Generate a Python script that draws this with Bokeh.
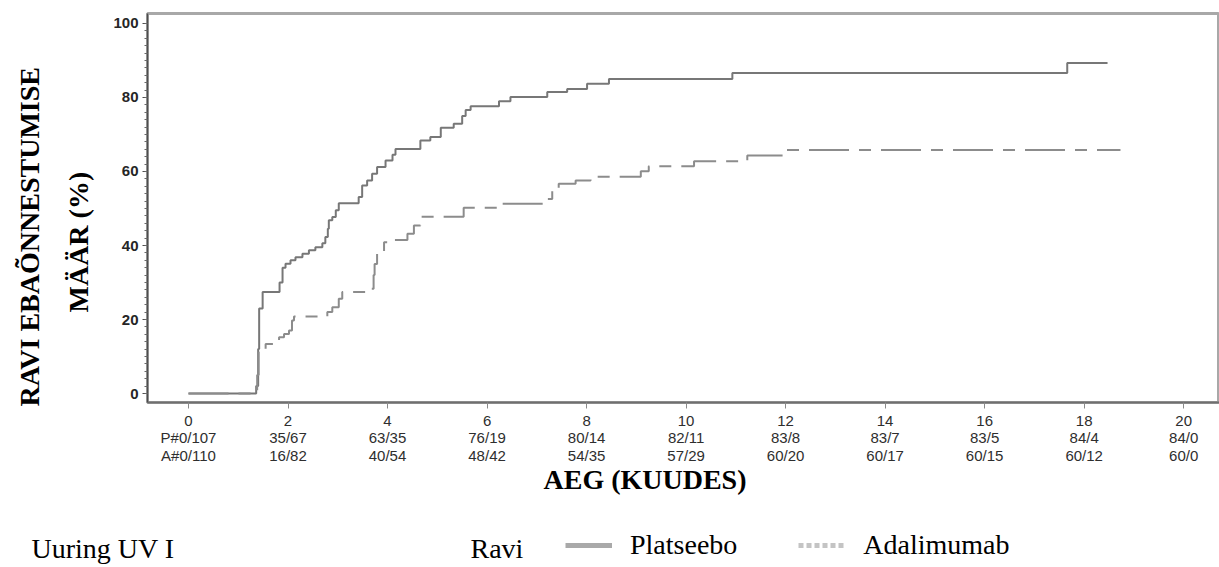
from bokeh.plotting import figure
from bokeh.layouts import column
from bokeh.models import Range1d, FixedTicker, Label, Legend, LegendItem, Title
from bokeh.embed import file_html
from bokeh.resources import INLINE

# --- data -----------------------------------------------------------------
month_ticks = [0, 2, 4, 6, 8, 10, 12, 14, 16, 18, 20]
placebo_at_risk = ["P#0/107", "35/67", "63/35", "76/19", "80/14", "82/11",
                   "83/8", "83/7", "83/5", "84/4", "84/0"]
adalimumab_at_risk = ["A#0/110", "16/82", "40/54", "48/42", "54/35", "57/29",
                      "60/20", "60/17", "60/15", "60/12", "60/0"]

# Kaplan-Meier treatment-failure curve, placebo arm (month, % failed)
placebo_month = [0.0, 1.36, 1.40, 1.42, 1.49, 1.83, 1.89, 1.95, 2.05, 2.15,
                 2.29, 2.42, 2.55, 2.69, 2.75, 2.80, 2.82, 2.89, 2.96, 3.02,
                 3.42, 3.49, 3.59, 3.69, 3.79, 3.96, 4.10, 4.16, 4.66, 4.86,
                 5.07, 5.33, 5.50, 5.57, 5.67, 6.24, 6.47, 7.21, 7.61, 8.01,
                 8.45, 10.93, 17.66]
placebo_pct = [0.0, 2.0, 12.0, 23.0, 27.4, 30.0, 34.0, 35.1, 36.0, 36.8,
               37.8, 38.7, 39.5, 40.6, 42.3, 44.5, 46.8, 47.7, 49.5, 51.4,
               53.1, 56.2, 57.6, 59.4, 61.2, 63.0, 64.5, 66.1, 68.4, 69.3,
               71.8, 72.9, 75.0, 76.6, 77.6, 79.0, 80.1, 81.5, 82.3, 83.7,
               85.0, 86.6, 89.3]
placebo_last_followup = 18.47

# Kaplan-Meier treatment-failure curve, adalimumab arm (month, % failed)
adalimumab_month = [0.0, 1.38, 1.41, 1.55, 1.82, 1.92, 2.02, 2.08, 2.12, 2.79,
                    2.89, 3.02, 3.09, 3.66, 3.72, 3.74, 3.79, 3.93, 4.13, 4.40,
                    4.53, 4.66, 5.53, 6.27, 7.18, 7.31, 7.44, 7.78, 8.08, 9.09,
                    9.25, 10.16, 11.23, 12.0]
adalimumab_pct = [0.0, 5.0, 11.6, 13.4, 15.2, 16.1, 17.0, 19.7, 20.8, 22.0,
                  23.3, 25.6, 27.4, 28.3, 32.0, 35.0, 38.2, 40.9, 41.5, 43.2,
                  45.4, 47.8, 50.2, 51.3, 52.6, 54.9, 56.7, 57.6, 58.6, 60.1,
                  61.4, 62.8, 64.3, 65.8]
adalimumab_last_followup = 18.73

y_ticks = [0, 20, 40, 60, 80, 100]

# --- page geometry --------------------------------------------------------
W = 1219
MAIN_H, KEY_H = 515, 52
LEFT, RIGHT, TOP, BOTTOM = 147, 1219, 13, 402
KEY_ROW_Y = 548
serif = "Liberation Serif"

p = figure(width=W, height=MAIN_H, output_backend="svg", toolbar_location=None,
           x_range=Range1d(-0.824, 20.72), y_range=Range1d(-2.43, 102.7),
           min_border_left=LEFT, min_border_right=W - RIGHT,
           min_border_top=TOP, min_border_bottom=MAIN_H - BOTTOM)
p.xgrid.visible = False
p.ygrid.visible = False
p.background_fill_color = "white"
p.border_fill_color = "white"
p.outline_line_color = "#a8a8a8"
p.outline_line_width = 3

# --- curves ---------------------------------------------------------------
p.step(placebo_month + [placebo_last_followup],
       placebo_pct + [placebo_pct[-1]],
       mode="after", line_color="#777777", line_width=2)
p.step(adalimumab_month + [adalimumab_last_followup],
       adalimumab_pct + [adalimumab_pct[-1]],
       mode="after", line_color="#8c8c8c", line_width=2,
       line_dash="40 10 12 10")

# --- axes -----------------------------------------------------------------
ya = p.yaxis[0]
ya.ticker = FixedTicker(ticks=y_ticks, minor_ticks=list(range(0, 101, 2)))
ya.axis_line_color = "#4d4d4d"
ya.axis_line_width = 1.5
ya.major_tick_line_color = "#4d4d4d"
ya.major_tick_out = 5
ya.major_tick_in = 0
ya.minor_tick_line_color = "#6a6a6a"
ya.minor_tick_out = 3
ya.minor_tick_in = 0
ya.major_label_standoff = 4
ya.major_label_text_font = "Liberation Sans"
ya.major_label_text_font_size = "15px"
ya.major_label_text_font_style = "bold"
ya.major_label_text_color = "#262626"

xa = p.xaxis[0]
xa.ticker = FixedTicker(ticks=month_ticks)
xa.major_label_overrides = {
    t: f"{t}\n{pr}\n{ar}"
    for t, pr, ar in zip(month_ticks, placebo_at_risk, adalimumab_at_risk)
}
xa.axis_line_color = "#6f6f6f"
xa.axis_line_width = 2
xa.major_tick_line_color = "#8a8a8a"
xa.major_tick_out = 6
xa.major_tick_in = 0
xa.minor_tick_line_color = None
xa.major_label_standoff = 3
xa.major_label_text_font = "Liberation Sans"
xa.major_label_text_font_size = "15px"
xa.major_label_text_color = "#2e2e2e"
xa.major_label_text_line_height = 1.05

# --- axis titles ----------------------------------------------------------
title_style = dict(text_font=serif, text_font_size="28px",
                   text_font_style="bold", text_color="black", align="left")
p.add_layout(Title(text="MÄÄR (%)", offset=90, standoff=33,
                   vertical_align="bottom", **title_style), "left")
p.add_layout(Title(text="RAVI EBAÕNNESTUMISE", offset=-4, standoff=0,
                   vertical_align="bottom", **title_style), "left")
p.add_layout(Title(text="AEG (KUUDES)", offset=396, standoff=-11,
                   **title_style), "below")

# --- study / treatment key row --------------------------------------------
key = figure(width=W, height=KEY_H, output_backend="svg", toolbar_location=None,
             x_range=Range1d(LEFT, W), y_range=Range1d(MAIN_H + KEY_H, MAIN_H),
             x_axis_location=None, y_axis_location="left",
             min_border=0, outline_line_color=None)
key.xgrid.visible = False
key.ygrid.visible = False

# the study caption sits in the left margin as the single tick label
ka = key.yaxis[0]
ka.ticker = FixedTicker(ticks=[KEY_ROW_Y])
ka.major_label_overrides = {KEY_ROW_Y: "Uuring UV I"}
ka.axis_line_color = None
ka.major_tick_line_color = None
ka.minor_tick_line_color = None
ka.major_label_standoff = -33
ka.major_label_text_font = serif
ka.major_label_text_font_size = "28px"
ka.major_label_text_color = "black"

key.add_layout(Label(x=470, y=KEY_ROW_Y, text="Ravi", text_font=serif,
                     text_font_size="28px", text_color="black",
                     text_align="left", text_baseline="middle"))

nan = float("nan")
key_placebo = key.line([nan], [nan], line_color="#a9a9a9", line_width=5)
key_adalimumab = key.line([nan], [nan], line_color="#c4c4c4", line_width=5,
                          line_dash="5 3")
legend = Legend(
    items=[LegendItem(label="Platseebo", renderers=[key_placebo]),
           LegendItem(label="Adalimumab", renderers=[key_adalimumab])],
    orientation="horizontal", location=(565 - LEFT, 6),
    glyph_width=47, glyph_height=20, label_standoff=18, spacing=61,
    padding=0, margin=0, border_line_color=None, background_fill_alpha=0,
    label_text_font=serif, label_text_font_size="28px",
    label_text_color="black")
key.add_layout(legend)

page = column(p, key, spacing=0)
open("out.html", "w").write(file_html(page, INLINE))
